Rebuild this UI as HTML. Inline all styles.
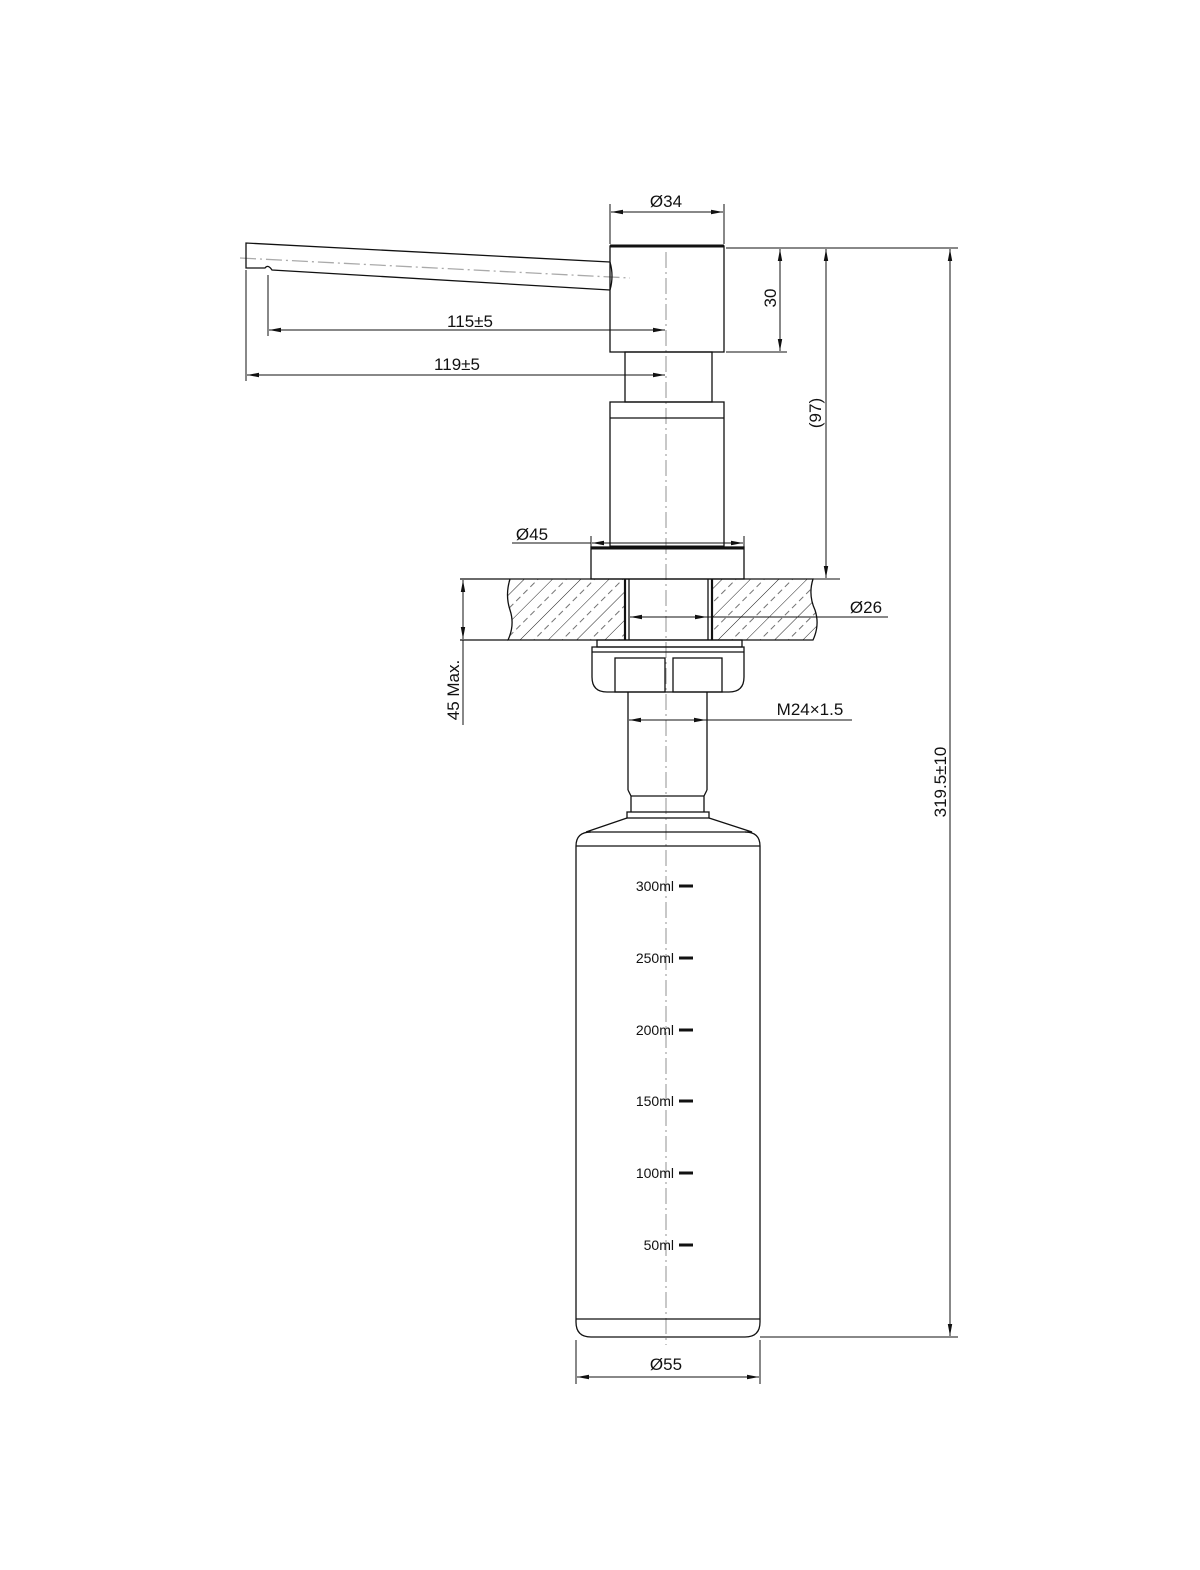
<!DOCTYPE html>
<html><head><meta charset="utf-8"><style>
html,body{margin:0;padding:0;background:#fff}
svg{display:block}
text{font-family:"Liberation Sans",Arial,sans-serif;fill:#111}
</style></head><body>
<svg width="1200" height="1570" viewBox="0 0 1200 1570" xmlns="http://www.w3.org/2000/svg">
<defs>
<marker id="a" viewBox="0 0 12 6" refX="12" refY="3" markerWidth="12" markerHeight="6" orient="auto-start-reverse" markerUnits="userSpaceOnUse"><path d="M0,0.8 L12,3 L0,5.2 z" fill="#111"/></marker>
<pattern id="h" width="20" height="20" patternUnits="userSpaceOnUse" patternTransform="rotate(-45)">
<line x1="0" y1="0" x2="20" y2="0" stroke="#222" stroke-width="1"/>
<line x1="0" y1="10" x2="20" y2="10" stroke="#444" stroke-width="0.8" stroke-dasharray="6,4"/>
</pattern>
<clipPath id="cl"><path d="M510,579 L626,579 L626,640 L508,640 Q515,625 510,610 Q505,595 510,579 Z M712,579 L813,579 Q808,595 815,610 Q820,625 813,640 L712,640 Z"/></clipPath>
</defs>
<g fill="none" stroke="#111" stroke-width="1.3">
<line x1="666" y1="252" x2="666" y2="1345" stroke="#aaa" stroke-dasharray="16,4,2,4"/>
<line x1="240" y1="258" x2="630" y2="278" stroke="#aaa" stroke-dasharray="16,4,2,4"/>
<path d="M610,262 L246,243 L246,268 L265,268 Q268,264 272,270 L610,290"/>
<path d="M610,262 Q614,276 610,290"/>
<rect x="610" y="246" width="114" height="106"/>
<line x1="610" y1="246" x2="724" y2="246" stroke-width="3"/>
<rect x="625" y="352" width="87" height="50"/>
<rect x="610" y="402" width="114" height="145"/>
<line x1="610" y1="418" x2="724" y2="418"/>
<line x1="610" y1="547" x2="724" y2="547" stroke-width="3"/>
<rect x="591" y="547" width="153" height="32"/>
<line x1="591" y1="548" x2="744" y2="548" stroke-width="3"/>
<rect x="500" y="575" width="320" height="70" fill="url(#h)" stroke="none" clip-path="url(#cl)"/>
<path d="M510,579 L813,579 Q808,595 815,610 Q820,625 813,640 L508,640 Q515,625 510,610 Q505,595 510,579"/>
<line x1="460" y1="579" x2="510" y2="579"/>
<line x1="460" y1="640" x2="508" y2="640"/>
<line x1="625" y1="579" x2="625" y2="640" stroke-width="2.2"/>
<line x1="629" y1="579" x2="629" y2="640"/>
<line x1="708" y1="579" x2="708" y2="640"/>
<line x1="712" y1="579" x2="712" y2="640" stroke-width="2.2"/>
<rect x="597" y="640" width="145" height="7"/>
<path d="M592,647 L744,647 L744,677 Q744,692 729,692 L607,692 Q592,692 592,677 Z"/>
<rect x="615" y="658" width="50" height="34"/>
<rect x="673" y="658" width="49" height="34"/>
<line x1="592" y1="652" x2="744" y2="652"/>
<line x1="628" y1="692" x2="628" y2="790"/>
<line x1="707" y1="692" x2="707" y2="790"/>
<path d="M628,790 L631,796 L631,812 M707,790 L704,796 L704,812"/>
<line x1="631" y1="796" x2="704" y2="796"/>
<rect x="627" y="812" width="82" height="6"/>
<path d="M627,818 L586,832 L752,832 L709,818"/>
<path d="M591,832 Q576,832 576,846 L576,1322 Q576,1337 591,1337 L745,1337 Q760,1337 760,1322 L760,846 Q760,832 745,832"/>
<line x1="576" y1="846" x2="760" y2="846"/>
<line x1="576" y1="1319" x2="760" y2="1319"/>
</g>
<g stroke="#111" stroke-width="3">
<line x1="679" y1="886" x2="693" y2="886"/><line x1="679" y1="958" x2="693" y2="958"/>
<line x1="679" y1="1030" x2="693" y2="1030"/><line x1="679" y1="1101" x2="693" y2="1101"/>
<line x1="679" y1="1173" x2="693" y2="1173"/><line x1="679" y1="1245" x2="693" y2="1245"/>
</g>
<g font-size="14" text-anchor="end">
<text x="674" y="891">300ml</text><text x="674" y="963">250ml</text><text x="674" y="1035">200ml</text>
<text x="674" y="1106">150ml</text><text x="674" y="1178">100ml</text><text x="674" y="1250">50ml</text>
</g>
<g fill="none" stroke="#111" stroke-width="1">
<line x1="610" y1="204" x2="610" y2="244"/><line x1="724" y1="204" x2="724" y2="244"/>
<line x1="611" y1="212" x2="723" y2="212" marker-start="url(#a)" marker-end="url(#a)"/>
<line x1="726" y1="248" x2="958" y2="248"/>
<line x1="726" y1="352" x2="787" y2="352"/>
<line x1="780" y1="249" x2="780" y2="351" marker-start="url(#a)" marker-end="url(#a)"/>
<line x1="826" y1="249" x2="826" y2="578" marker-start="url(#a)" marker-end="url(#a)"/>
<line x1="712" y1="579" x2="840" y2="579"/>
<line x1="950" y1="249" x2="950" y2="1336" marker-start="url(#a)" marker-end="url(#a)"/>
<line x1="760" y1="1337" x2="958" y2="1337"/>
<line x1="268" y1="275" x2="268" y2="336"/>
<line x1="269" y1="330" x2="665" y2="330" marker-start="url(#a)" marker-end="url(#a)"/>
<line x1="246" y1="270" x2="246" y2="381"/>
<line x1="247" y1="375" x2="665" y2="375" marker-start="url(#a)" marker-end="url(#a)"/>
<line x1="591" y1="536" x2="591" y2="552"/><line x1="744" y1="536" x2="744" y2="552"/>
<line x1="512" y1="543" x2="591" y2="543"/>
<line x1="592" y1="543" x2="743" y2="543" marker-start="url(#a)" marker-end="url(#a)"/>
<line x1="463" y1="580" x2="463" y2="639" marker-start="url(#a)" marker-end="url(#a)"/>
<line x1="463" y1="640" x2="463" y2="725"/>
<line x1="630" y1="617" x2="707" y2="617" marker-start="url(#a)" marker-end="url(#a)"/>
<line x1="707" y1="617" x2="888" y2="617"/>
<line x1="629" y1="720" x2="706" y2="720" marker-start="url(#a)" marker-end="url(#a)"/>
<line x1="706" y1="720" x2="852" y2="720"/>
<line x1="576" y1="1340" x2="576" y2="1384"/><line x1="760" y1="1340" x2="760" y2="1384"/>
<line x1="577" y1="1377" x2="759" y2="1377" marker-start="url(#a)" marker-end="url(#a)"/>
</g>
<g font-size="17">
<text x="666" y="207" text-anchor="middle">Ø34</text>
<text x="470" y="327" text-anchor="middle">115±5</text>
<text x="457" y="370" text-anchor="middle">119±5</text>
<text x="532" y="540" text-anchor="middle">Ø45</text>
<text x="866" y="613" text-anchor="middle">Ø26</text>
<text x="810" y="715" text-anchor="middle">M24×1.5</text>
<text x="666" y="1370" text-anchor="middle">Ø55</text>
<text transform="translate(776,298) rotate(-90)" text-anchor="middle">30</text>
<text transform="translate(821,413) rotate(-90)" text-anchor="middle">(97)</text>
<text transform="translate(946,782) rotate(-90)" text-anchor="middle">319.5±10</text>
<text transform="translate(459,690) rotate(-90)" text-anchor="middle">45 Max.</text>
</g>
</svg>
</body></html>
